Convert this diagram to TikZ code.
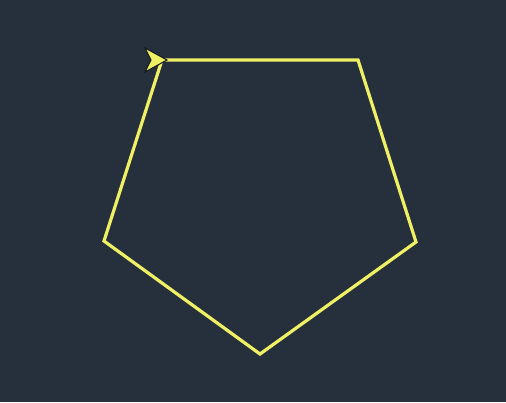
\documentclass[tikz,border=0pt]{standalone}
\definecolor{bg}{RGB}{38,48,60}
\definecolor{pen}{RGB}{240,240,100}
\begin{document}
\begin{tikzpicture}[x=1pt,y=-1pt,
  edge/.style={pen,line width=3.2pt,line join=miter},
  turtle/.style={fill=pen,draw=bg!50!black,line width=1pt,line join=miter}]
\fill[bg] (0,0) rectangle (506,402);
\useasboundingbox (0,0) rectangle (506,402);
\coordinate (A) at (162,60);
\coordinate (B) at (358,60);
\coordinate (C) at (416,242);
\coordinate (D) at (260,354);
\coordinate (E) at (104,241);
\draw[edge] (A) -- (B) -- (C) -- (D) -- (E) -- cycle;
\draw[turtle] ([xshift=5]A) -- ([xshift=-17,yshift=-12]A) -- ([xshift=-11]A) -- ([xshift=-17,yshift=12]A) -- cycle;
\end{tikzpicture}
\end{document}
